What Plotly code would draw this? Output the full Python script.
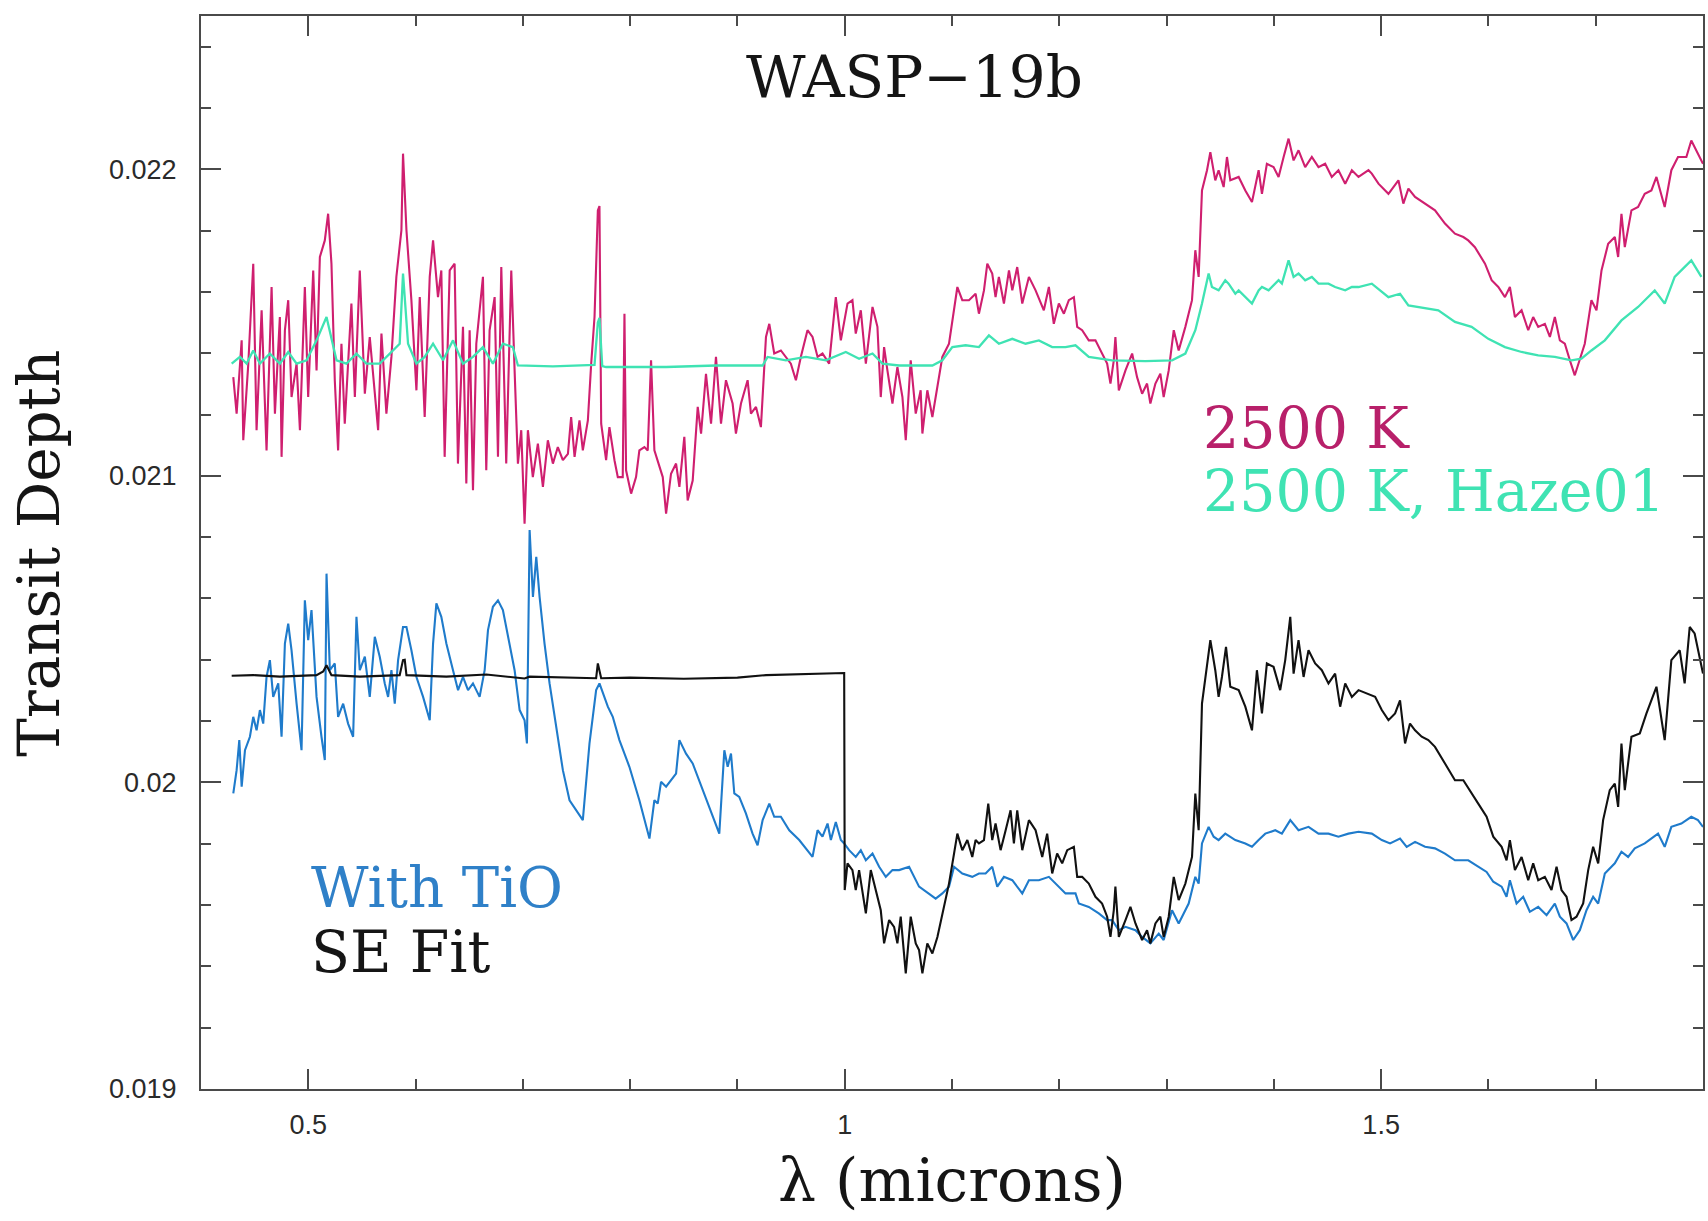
import plotly.graph_objects as go

# ---------------- data ----------------
wl_2500k = [
    0.4301, 0.4332, 0.4379, 0.4394, 0.4441, 0.4487, 0.4518, 0.4565, 0.4611, 0.4658,
    0.4689, 0.4735, 0.4751, 0.4782, 0.4813, 0.4844, 0.4891, 0.4922, 0.4968, 0.4999,
    0.5046, 0.5077, 0.5108, 0.5154, 0.5185, 0.5216, 0.5247, 0.5278, 0.5309, 0.5340,
    0.5402, 0.5434, 0.5480, 0.5527, 0.5573, 0.5651, 0.5682, 0.5728, 0.5775, 0.5821,
    0.5868, 0.5883, 0.5915, 0.5961, 0.6008, 0.6039, 0.6085, 0.6132, 0.6163, 0.6209,
    0.6240, 0.6271, 0.6318, 0.6364, 0.6395, 0.6442, 0.6473, 0.6504, 0.6535, 0.6566,
    0.6628, 0.6659, 0.6690, 0.6737, 0.6768, 0.6799, 0.6845, 0.6892, 0.6923, 0.6954,
    0.6985, 0.7016, 0.7047, 0.7093, 0.7140, 0.7187, 0.7233, 0.7280, 0.7326, 0.7373,
    0.7420, 0.7450, 0.7482, 0.7528, 0.7559, 0.7606, 0.7637, 0.7668, 0.7699,
    0.7714, 0.7730, 0.7776, 0.7807, 0.7854, 0.7885, 0.7931, 0.7947, 0.7962, 0.8009,
    0.8055, 0.8086, 0.8133, 0.8164, 0.8195, 0.8226, 0.8304, 0.8335, 0.8381, 0.8428,
    0.8459, 0.8505, 0.8536, 0.8583, 0.8630, 0.8661, 0.8707, 0.8754, 0.8800, 0.8847,
    0.8893, 0.8955, 0.8986, 0.9033, 0.9095, 0.9126, 0.9173, 0.9219, 0.9266, 0.9297,
    0.9343, 0.9405, 0.9452, 0.9498, 0.9545, 0.9591, 0.9653, 0.9700, 0.9747, 0.9793,
    0.9855, 0.9917, 0.9964, 1.0026, 1.0072, 1.0103, 1.0150, 1.0197, 1.0259, 1.0305,
    1.0336, 1.0367, 1.0398, 1.0445, 1.0491, 1.0538, 1.0569, 1.0615, 1.0662, 1.0708,
    1.0724, 1.0770, 1.0817, 1.0910, 1.0972, 1.1050, 1.1096, 1.1158, 1.1220,
    1.1251, 1.1298, 1.1329, 1.1375, 1.1406, 1.1437, 1.1484, 1.1531, 1.1562, 1.1608,
    1.1655, 1.1717, 1.1779, 1.1856, 1.1903, 1.1949, 1.1996, 1.2043, 1.2089, 1.2136,
    1.2167, 1.2213, 1.2275, 1.2337, 1.2399, 1.2446, 1.2477, 1.2508, 1.2523, 1.2555,
    1.2617, 1.2679, 1.2725, 1.2772, 1.2818, 1.2849, 1.2896, 1.2942, 1.2973, 1.3020,
    1.3067, 1.3113, 1.3175, 1.3237, 1.3268, 1.3299, 1.3330, 1.3377, 1.3408, 1.3454,
    1.3485, 1.3532, 1.3563, 1.3594, 1.3672, 1.3734, 1.3796, 1.3858, 1.3889, 1.3935,
    1.3997, 1.4044, 1.4091, 1.4137, 1.4184, 1.4230, 1.4292, 1.4354, 1.4416, 1.4478,
    1.4540, 1.4602, 1.4665, 1.4727, 1.4789,
    1.4882, 1.4913, 1.4975, 1.5068, 1.5161, 1.5207, 1.5254, 1.5316, 1.5409, 1.5502,
    1.5595, 1.5688, 1.5766, 1.5812, 1.5874, 1.5968, 1.6030, 1.6092, 1.6154, 1.6200,
    1.6247, 1.6309, 1.6371, 1.6417, 1.6464, 1.6526, 1.6573, 1.6619, 1.6666, 1.6712,
    1.6759, 1.6805, 1.6898, 1.6960, 1.7007, 1.7054, 1.7116, 1.7178, 1.7209, 1.7240,
    1.7271, 1.7333, 1.7395, 1.7457, 1.7519, 1.7566, 1.7643, 1.7705, 1.7767, 1.7845,
    1.7891, 1.7953, 1.8000,
]
depth_2500k = [
    0.021322, 0.021203, 0.021442, 0.021116, 0.021366, 0.021692, 0.021149, 0.021540, 0.021083, 0.021616,
    0.021203, 0.021518, 0.021062, 0.021475, 0.021573, 0.021257, 0.021366, 0.021149, 0.021616, 0.021257,
    0.021670, 0.021344, 0.021714, 0.021768, 0.021855, 0.021692, 0.021312, 0.021083, 0.021431, 0.021170,
    0.021562, 0.021257, 0.021670, 0.021268, 0.021453, 0.021149, 0.021464, 0.021203, 0.021388, 0.021649,
    0.021801, 0.022051, 0.021801, 0.021573, 0.021279, 0.021583, 0.021192, 0.021649, 0.021768, 0.021583,
    0.021670, 0.021062, 0.021670, 0.021692, 0.021040, 0.021486, 0.020975, 0.021475, 0.020953, 0.021431,
    0.021649, 0.021018, 0.021475, 0.021583, 0.021062, 0.021681, 0.021040, 0.021670, 0.021344, 0.021040,
    0.021149, 0.020844, 0.021149, 0.020996, 0.021105, 0.020964, 0.021116, 0.021040, 0.021094, 0.021051,
    0.021072, 0.021192, 0.021062, 0.021181, 0.021083, 0.021181, 0.021366, 0.021518, 0.021866,
    0.021880, 0.021170, 0.021051, 0.021159, 0.021051, 0.020996, 0.020996, 0.021529, 0.021018, 0.020942,
    0.020996, 0.021083, 0.021094, 0.021083, 0.021377, 0.021083, 0.020996, 0.020877, 0.021007, 0.021040,
    0.020964, 0.021127, 0.020920, 0.020985, 0.021225, 0.021138, 0.021333, 0.021170, 0.021388, 0.021170,
    0.021312, 0.021236, 0.021138, 0.021236, 0.021312, 0.021203, 0.021225, 0.021159, 0.021453, 0.021496,
    0.021399, 0.021409, 0.021388, 0.021366, 0.021312, 0.021388, 0.021475, 0.021453, 0.021388, 0.021399,
    0.021366, 0.021583, 0.021442, 0.021562, 0.021573, 0.021464, 0.021540, 0.021366, 0.021551, 0.021486,
    0.021257, 0.021420, 0.021344, 0.021236, 0.021355, 0.021257, 0.021116, 0.021377, 0.021203, 0.021279,
    0.021138, 0.021279, 0.021192, 0.021388, 0.021431, 0.021616, 0.021573, 0.021573, 0.021594,
    0.021529, 0.021605, 0.021692, 0.021660, 0.021583, 0.021649, 0.021562, 0.021670, 0.021605, 0.021681,
    0.021562, 0.021649, 0.021605, 0.021540, 0.021616, 0.021496, 0.021562, 0.021529, 0.021573, 0.021583,
    0.021486, 0.021475, 0.021442, 0.021442, 0.021399, 0.021366, 0.021301, 0.021377, 0.021453, 0.021279,
    0.021344, 0.021399, 0.021322, 0.021268, 0.021301, 0.021236, 0.021301, 0.021333, 0.021257, 0.021344,
    0.021475, 0.021409, 0.021486, 0.021573, 0.021736, 0.021649, 0.021931, 0.021997, 0.022056, 0.021964,
    0.021997, 0.021942, 0.022040, 0.021964, 0.021975, 0.021931, 0.021893, 0.021997, 0.021920, 0.022018,
    0.022007, 0.021975, 0.022040, 0.022100, 0.022029, 0.022062, 0.022007, 0.022040, 0.022007, 0.022018,
    0.021975, 0.021997, 0.021953, 0.021997, 0.021975,
    0.021997, 0.021986, 0.021953, 0.021920, 0.021964, 0.021888, 0.021937, 0.021910, 0.021888, 0.021866,
    0.021823, 0.021790, 0.021779, 0.021768, 0.021746, 0.021692, 0.021638, 0.021616, 0.021583, 0.021616,
    0.021518, 0.021540, 0.021475, 0.021518, 0.021486, 0.021496, 0.021453, 0.021518, 0.021442, 0.021431,
    0.021377, 0.021328, 0.021431, 0.021573, 0.021540, 0.021670, 0.021757, 0.021779, 0.021714, 0.021855,
    0.021746, 0.021866, 0.021877, 0.021920, 0.021931, 0.021975, 0.021877, 0.021997, 0.022040, 0.022040,
    0.022094, 0.022051, 0.022018,
]

wl_haze = [
    0.4286, 0.4363, 0.4425, 0.4487, 0.4549, 0.4642, 0.4735, 0.4813, 0.4891, 0.4984,
    0.5077, 0.5170, 0.5263, 0.5356, 0.5449, 0.5542, 0.5666, 0.5790, 0.5852, 0.5883,
    0.5930, 0.6008, 0.6085, 0.6163, 0.6256, 0.6349, 0.6442, 0.6535, 0.6628, 0.6721,
    0.6814, 0.6907, 0.6954, 0.7280, 0.7621, 0.7668, 0.7699, 0.7714, 0.7740, 0.7776,
    0.8335, 0.8800, 0.9235, 0.9281, 0.9452, 0.9638, 0.9824, 1.0010, 1.0134, 1.0259,
    1.0352, 1.0507, 1.0817, 1.0910, 1.1003, 1.1127, 1.1251, 1.1344, 1.1437, 1.1562,
    1.1686, 1.1810, 1.1934, 1.2058, 1.2151, 1.2275, 1.2492, 1.2803, 1.3051, 1.3175,
    1.3268, 1.3330, 1.3392, 1.3423, 1.3485, 1.3547, 1.3578, 1.3641, 1.3672, 1.3734,
    1.3796, 1.3858, 1.3889, 1.3951, 1.4044, 1.4075, 1.4137, 1.4184, 1.4230, 1.4292,
    1.4354, 1.4416, 1.4509, 1.4571, 1.4665, 1.4727, 1.4789, 1.4913, 1.5068, 1.5176,
    1.5254, 1.5533, 1.5688, 1.5843, 1.5999, 1.6154, 1.6309, 1.6464, 1.6619, 1.6774,
    1.6867, 1.6960, 1.7085, 1.7240, 1.7395, 1.7550, 1.7643, 1.7736, 1.7891, 1.7985,
]
depth_haze = [
    0.021366, 0.021388, 0.021366, 0.021409, 0.021366, 0.021399, 0.021366, 0.021404, 0.021366, 0.021377,
    0.021442, 0.021518, 0.021377, 0.021366, 0.021399, 0.021366, 0.021366, 0.021409, 0.021431, 0.021660,
    0.021431, 0.021366, 0.021388, 0.021431, 0.021377, 0.021442, 0.021366, 0.021388, 0.021420, 0.021366,
    0.021431, 0.021420, 0.021360, 0.021357, 0.021360, 0.021362, 0.021500, 0.021515, 0.021358, 0.021355,
    0.021355, 0.021360, 0.021360, 0.021388, 0.021377, 0.021388, 0.021377, 0.021404, 0.021382, 0.021399,
    0.021366, 0.021360, 0.021360, 0.021377, 0.021420, 0.021426, 0.021420, 0.021458, 0.021431, 0.021447,
    0.021431, 0.021442, 0.021420, 0.021420, 0.021426, 0.021388, 0.021377, 0.021374, 0.021377, 0.021399,
    0.021475, 0.021562, 0.021660, 0.021616, 0.021605, 0.021638, 0.021627, 0.021594, 0.021605, 0.021583,
    0.021562, 0.021605, 0.021616, 0.021605, 0.021638, 0.021627, 0.021703, 0.021649, 0.021660, 0.021638,
    0.021649, 0.021627, 0.021627, 0.021616, 0.021605, 0.021616, 0.021616, 0.021627, 0.021583, 0.021594,
    0.021556, 0.021540, 0.021502, 0.021486, 0.021447, 0.021420, 0.021404, 0.021393, 0.021388, 0.021377,
    0.021382, 0.021409, 0.021442, 0.021507, 0.021551, 0.021605, 0.021562, 0.021649, 0.021703, 0.021649,
]

wl_tio = [
    0.4301, 0.4332, 0.4357, 0.4379, 0.4410, 0.4456, 0.4487, 0.4518, 0.4549, 0.4580,
    0.4611, 0.4642, 0.4673, 0.4720, 0.4751, 0.4782, 0.4813, 0.4844, 0.4891, 0.4937,
    0.4968, 0.4999, 0.5030, 0.5077, 0.5123, 0.5154, 0.5170, 0.5201, 0.5247, 0.5278,
    0.5325, 0.5371, 0.5418, 0.5449, 0.5480, 0.5527, 0.5573, 0.5620, 0.5666, 0.5713,
    0.5744, 0.5775, 0.5806, 0.5837, 0.5883, 0.5915, 0.5961, 0.6008, 0.6070, 0.6132,
    0.6163, 0.6194, 0.6240, 0.6287, 0.6349, 0.6396, 0.6442, 0.6489, 0.6535, 0.6597,
    0.6644, 0.6675, 0.6721, 0.6768, 0.6814, 0.6861, 0.6923, 0.6970, 0.7016, 0.7038,
    0.7063, 0.7094, 0.7125, 0.7156, 0.7202, 0.7249, 0.7311, 0.7373, 0.7435, 0.7497,
    0.7559, 0.7621, 0.7683, 0.7714,
    0.7761, 0.7792, 0.7838, 0.7900, 0.7993, 0.8086, 0.8180, 0.8226, 0.8257, 0.8288,
    0.8335, 0.8428, 0.8459, 0.8521, 0.8583, 0.8676, 0.8769, 0.8831, 0.8878, 0.8909,
    0.8940, 0.8971, 0.9017, 0.9079, 0.9141, 0.9188, 0.9235, 0.9297, 0.9343, 0.9405,
    0.9483, 0.9576, 0.9700, 0.9747, 0.9793, 0.9840, 0.9871, 0.9917, 0.9964, 0.9995,
    1.0041, 1.0103, 1.0150, 1.0197, 1.0259, 1.0321, 1.0383, 1.0445, 1.0507, 1.0600,
    1.0693, 1.0786, 1.0848, 1.0910, 1.0972, 1.1019, 1.1096, 1.1189, 1.1251,
    1.1313, 1.1375, 1.1422, 1.1484, 1.1562, 1.1655, 1.1717, 1.1810, 1.1903, 1.1996,
    1.2058, 1.2151, 1.2182, 1.2275, 1.2368, 1.2446, 1.2492, 1.2555, 1.2617, 1.2710,
    1.2772, 1.2849, 1.2927, 1.2973, 1.3051, 1.3113, 1.3206, 1.3268, 1.3299, 1.3330,
    1.3392, 1.3439, 1.3485, 1.3547, 1.3641, 1.3734, 1.3796, 1.3858, 1.3920, 1.4013,
    1.4075, 1.4153, 1.4230, 1.4323, 1.4416, 1.4509, 1.4602, 1.4695, 1.4789,
    1.4913, 1.5006, 1.5083, 1.5176, 1.5238, 1.5316, 1.5409, 1.5502, 1.5595, 1.5688,
    1.5812, 1.5905, 1.5983, 1.6045, 1.6123, 1.6169, 1.6200, 1.6262, 1.6324, 1.6386,
    1.6464, 1.6542, 1.6619, 1.6666, 1.6728, 1.6790, 1.6852, 1.6914, 1.6976, 1.7023,
    1.7085, 1.7178, 1.7240, 1.7302, 1.7364, 1.7457, 1.7581, 1.7643, 1.7705, 1.7798,
    1.7891, 1.7953, 1.8000,
]
depth_tio = [
    0.019964, 0.020040, 0.020138, 0.019986, 0.020105, 0.020149, 0.020214, 0.020170, 0.020236, 0.020192,
    0.020344, 0.020399, 0.020279, 0.020323, 0.020149, 0.020453, 0.020518, 0.020431, 0.020257, 0.020105,
    0.020594, 0.020464, 0.020562, 0.020279, 0.020149, 0.020073, 0.020681, 0.020366, 0.020388, 0.020214,
    0.020257, 0.020192, 0.020149, 0.020540, 0.020366, 0.020410, 0.020279, 0.020475, 0.020410, 0.020323,
    0.020279, 0.020366, 0.020257, 0.020399, 0.020507, 0.020507, 0.020431, 0.020344, 0.020279, 0.020203,
    0.020453, 0.020584, 0.020540, 0.020453, 0.020366, 0.020301, 0.020344, 0.020301, 0.020323, 0.020279,
    0.020366, 0.020497, 0.020573, 0.020594, 0.020562, 0.020475, 0.020366, 0.020236, 0.020203, 0.020127,
    0.020823, 0.020605, 0.020736, 0.020605, 0.020453, 0.020323, 0.020181, 0.020040, 0.019942, 0.019909,
    0.019877, 0.020127, 0.020301, 0.020323,
    0.020279, 0.020247, 0.020214, 0.020138, 0.020051, 0.019942, 0.019817, 0.019942, 0.019931, 0.020002,
    0.019986, 0.020029, 0.020138, 0.020094, 0.020062, 0.019975, 0.019888, 0.019833, 0.020105, 0.020051,
    0.020094, 0.019964, 0.019953, 0.019899, 0.019833, 0.019795, 0.019877, 0.019931, 0.019888, 0.019888,
    0.019844, 0.019812, 0.019757, 0.019844, 0.019823, 0.019866, 0.019812, 0.019871, 0.019812, 0.019801,
    0.019779, 0.019757, 0.019779, 0.019746, 0.019768, 0.019725, 0.019692, 0.019714, 0.019714, 0.019725,
    0.019660, 0.019638, 0.019621, 0.019638, 0.019660, 0.019725, 0.019703, 0.019692, 0.019703,
    0.019703, 0.019725, 0.019660, 0.019692, 0.019681, 0.019638, 0.019681, 0.019681, 0.019692, 0.019660,
    0.019638, 0.019638, 0.019605, 0.019594, 0.019573, 0.019551, 0.019551, 0.019518, 0.019529, 0.019518,
    0.019496, 0.019475, 0.019507, 0.019486, 0.019583, 0.019540, 0.019605, 0.019692, 0.019670, 0.019801,
    0.019855, 0.019823, 0.019812, 0.019833, 0.019812, 0.019801, 0.019790, 0.019812, 0.019833, 0.019844,
    0.019833, 0.019877, 0.019844, 0.019855, 0.019833, 0.019833, 0.019823, 0.019833, 0.019839,
    0.019833, 0.019812, 0.019801, 0.019817, 0.019790, 0.019806, 0.019790, 0.019785, 0.019768, 0.019746,
    0.019746, 0.019725, 0.019708, 0.019676, 0.019660, 0.019627, 0.019681, 0.019605, 0.019627, 0.019578,
    0.019594, 0.019567, 0.019605, 0.019562, 0.019540, 0.019486, 0.019518, 0.019583, 0.019627, 0.019605,
    0.019703, 0.019736, 0.019774, 0.019757, 0.019785, 0.019801, 0.019833, 0.019790, 0.019855, 0.019866,
    0.019888, 0.019877, 0.019855,
]

wl_se = [
    0.4286, 0.4487, 0.4735, 0.5077, 0.5139, 0.5170, 0.5216, 0.5480, 0.5852, 0.5883,
    0.5899, 0.5915, 0.6287, 0.6659, 0.7016, 0.7063, 0.7683, 0.7699, 0.7730, 0.8000,
    0.8500, 0.9000, 0.9266, 0.9500, 0.9700, 0.9964, 0.9995, 1.0000, 1.0026, 1.0072,
    1.0103, 1.0134, 1.0197, 1.0243, 1.0290, 1.0336, 1.0367, 1.0414, 1.0460, 1.0491,
    1.0522, 1.0569, 1.0615, 1.0662, 1.0693, 1.0724, 1.0770, 1.0817, 1.0864, 1.0910,
    1.0972, 1.1019, 1.1050, 1.1096, 1.1143, 1.1189, 1.1220, 1.1251, 1.1298, 1.1338,
    1.1375, 1.1406, 1.1453, 1.1500, 1.1546, 1.1577, 1.1608, 1.1655, 1.1717, 1.1779,
    1.1841, 1.1887, 1.1934, 1.1980, 1.2027, 1.2074, 1.2136, 1.2167, 1.2213, 1.2275,
    1.2337, 1.2399, 1.2446, 1.2477, 1.2508, 1.2523, 1.2555, 1.2617, 1.2663, 1.2710,
    1.2772, 1.2818, 1.2849, 1.2896, 1.2942, 1.2973, 1.3020, 1.3067, 1.3113, 1.3175,
    1.3237, 1.3268, 1.3299, 1.3330, 1.3377, 1.3408, 1.3454, 1.3485, 1.3516, 1.3554,
    1.3594, 1.3672, 1.3734, 1.3796, 1.3842, 1.3889, 1.3935, 1.3997, 1.4059, 1.4106,
    1.4153, 1.4184, 1.4230, 1.4277, 1.4323, 1.4385, 1.4447, 1.4509, 1.4571, 1.4618,
    1.4665, 1.4727, 1.4789, 1.4944, 1.5006, 1.5068, 1.5130, 1.5176, 1.5223, 1.5269,
    1.5316, 1.5378, 1.5440, 1.5502, 1.5595, 1.5688, 1.5766, 1.5828, 1.5905, 1.5983,
    1.6045, 1.6123, 1.6169, 1.6200, 1.6247, 1.6309, 1.6371, 1.6417, 1.6464, 1.6526,
    1.6588, 1.6635, 1.6681, 1.6728, 1.6774, 1.6821, 1.6883, 1.6930, 1.6976, 1.7023,
    1.7069, 1.7131, 1.7178, 1.7209, 1.7240, 1.7271, 1.7333, 1.7411, 1.7473, 1.7566,
    1.7643, 1.7705, 1.7783, 1.7829, 1.7876, 1.7922, 1.7984, 1.8000,
]
depth_se = [
    0.020348, 0.020350, 0.020345, 0.020350, 0.020362, 0.020382, 0.020350, 0.020345, 0.020350, 0.020399,
    0.020400, 0.020350, 0.020345, 0.020352, 0.020339, 0.020345, 0.020340, 0.020388, 0.020340, 0.020342,
    0.020338, 0.020342, 0.020350, 0.020352, 0.020356, 0.020357, 0.020357, 0.019649, 0.019736, 0.019714,
    0.019649, 0.019714, 0.019573, 0.019714, 0.019649, 0.019583, 0.019475, 0.019551, 0.019529, 0.019475,
    0.019562, 0.019377, 0.019562, 0.019475, 0.019453, 0.019377, 0.019475, 0.019442, 0.019496, 0.019573,
    0.019670, 0.019768, 0.019833, 0.019779, 0.019812, 0.019757, 0.019812, 0.019801, 0.019812, 0.019931,
    0.019812, 0.019866, 0.019779, 0.019844, 0.019909, 0.019801, 0.019909, 0.019779, 0.019877, 0.019844,
    0.019757, 0.019833, 0.019703, 0.019768, 0.019736, 0.019779, 0.019790, 0.019692, 0.019692, 0.019670,
    0.019627, 0.019605, 0.019562, 0.019496, 0.019583, 0.019660, 0.019496, 0.019551, 0.019594, 0.019540,
    0.019486, 0.019518, 0.019475, 0.019540, 0.019562, 0.019496, 0.019562, 0.019692, 0.019616, 0.019670,
    0.019757, 0.019964, 0.019844, 0.020257, 0.020377, 0.020464, 0.020366, 0.020279, 0.020344, 0.020442,
    0.020312, 0.020301, 0.020247, 0.020170, 0.020366, 0.020225, 0.020388, 0.020377, 0.020301, 0.020399,
    0.020540, 0.020355, 0.020464, 0.020344, 0.020431, 0.020388, 0.020366, 0.020323, 0.020355, 0.020247,
    0.020323, 0.020279, 0.020301, 0.020279, 0.020236, 0.020203, 0.020225, 0.020268, 0.020127, 0.020192,
    0.020170, 0.020149, 0.020138, 0.020116, 0.020062, 0.020007, 0.020007, 0.019975, 0.019931, 0.019888,
    0.019823, 0.019790, 0.019746, 0.019812, 0.019714, 0.019757, 0.019681, 0.019736, 0.019681, 0.019692,
    0.019649, 0.019725, 0.019649, 0.019627, 0.019551, 0.019562, 0.019605, 0.019714, 0.019790, 0.019736,
    0.019877, 0.019975, 0.019996, 0.019920, 0.020127, 0.019975, 0.020149, 0.020160, 0.020225, 0.020312,
    0.020138, 0.020399, 0.020431, 0.020323, 0.020507, 0.020486, 0.020377, 0.020355,
]

assert len(wl_2500k) == len(depth_2500k)
assert len(wl_haze) == len(depth_haze)
assert len(wl_tio) == len(depth_tio)
assert len(wl_se) == len(depth_se)

x_tick_vals = [0.5, 1.0, 1.5]
x_tick_text = ["0.5", "1", "1.5"]
y_tick_vals = [0.019, 0.020, 0.021, 0.022]
y_tick_text = ["0.019", "0.02", "0.021", "0.022"]

# ---------------- styling ----------------
C_MAG = "#cf1f6f"
C_TEAL = "#3fe3b3"
C_BLUE = "#1f7bcb"
C_BLACK = "#111111"
AX = "#4a4a4a"
SERIF = "DejaVu Serif"
SANS = "Liberation Sans"

fig = go.Figure()
fig.add_trace(go.Scatter(x=wl_2500k, y=depth_2500k, mode="lines",
                         line=dict(color=C_MAG, width=2.1), name="2500 K"))
fig.add_trace(go.Scatter(x=wl_haze, y=depth_haze, mode="lines",
                         line=dict(color=C_TEAL, width=2.3), name="2500 K, Haze01"))
fig.add_trace(go.Scatter(x=wl_tio, y=depth_tio, mode="lines",
                         line=dict(color=C_BLUE, width=2.1), name="With TiO"))
fig.add_trace(go.Scatter(x=wl_se, y=depth_se, mode="lines",
                         line=dict(color=C_BLACK, width=2.1), name="SE Fit"))

axis_common = dict(
    showline=True, linecolor=AX, linewidth=2, mirror="ticks",
    ticks="inside", ticklen=20, tickwidth=1.6, tickcolor=AX,
    showgrid=False, zeroline=False,
    tickfont=dict(family=SANS, size=27, color="#2a2a2a"),
)

fig.update_xaxes(range=[0.4, 1.8], tickmode="array", tickvals=x_tick_vals,
                 ticktext=x_tick_text, ticklabelstandoff=11,
                 minor=dict(ticks="inside", ticklen=10, tickwidth=1.6, tickcolor=AX,
                            tickmode="linear", tick0=0.4, dtick=0.1, showgrid=False),
                 **axis_common)
fig.update_yaxes(range=[0.019, 0.0225], tickmode="array", tickvals=y_tick_vals,
                 ticktext=y_tick_text, ticklabelstandoff=17,
                 minor=dict(ticks="inside", ticklen=10, tickwidth=1.6, tickcolor=AX,
                            tickmode="linear", tick0=0.019, dtick=0.0002, showgrid=False),
                 **axis_common)

annotations = [
    dict(text="WASP\u221219b", x=0.475, y=0.9435, font=dict(family=SERIF, size=58, color="#151515")),
    dict(text="2500 K", x=0.6655, y=0.616, xanchor="left", font=dict(family=SERIF, size=57, color="#b8206a")),
    dict(text="2500 K, Haze01", x=0.6655, y=0.557, xanchor="left", font=dict(family=SERIF, size=57, color=C_TEAL)),
    dict(text="With TiO", x=0.072, y=0.188, xanchor="left", font=dict(family=SERIF, size=56, color="#2f80c8")),
    dict(text="SE Fit", x=0.072, y=0.128, xanchor="left", font=dict(family=SERIF, size=57, color="#151515")),
    dict(text="\u03bb (microns)", x=0.5, y=-0.0845, font=dict(family=SERIF, size=60, color="#151515")),
    dict(text="Transit Depth", x=-0.1084, y=0.499, textangle=-90, font=dict(family=SERIF, size=58, color="#151515")),
]
for a in annotations:
    a.setdefault("xanchor", "center")
    a.update(xref="paper", yref="paper", yanchor="middle", showarrow=False)
fig.update_layout(annotations=annotations)

fig.update_layout(
    width=1708, height=1221,
    margin=dict(l=201, r=3, t=16, b=132, pad=0),
    paper_bgcolor="white", plot_bgcolor="white",
    showlegend=False,
)

fig.write_html("out.html")
